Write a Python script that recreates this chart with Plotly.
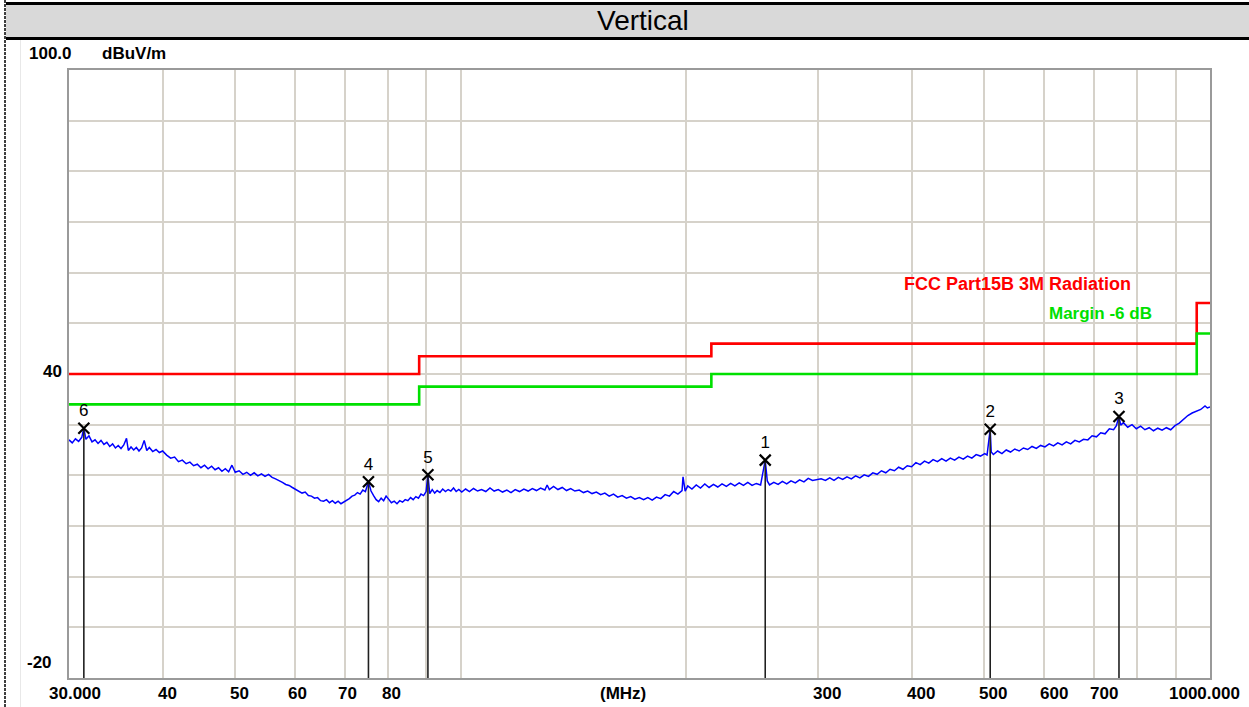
import math
import plotly.graph_objects as go

# ---------------- data ----------------
freq_mhz = [
    30.0, 30.3, 30.6, 30.9, 31.2, 31.4, 31.6, 31.9, 32.2, 32.5, 32.8, 33.1, 33.4, 33.7, 34.0, 34.3,
    34.6, 34.9, 35.2, 35.5, 35.8, 36.0, 36.3, 36.6, 36.9, 37.2, 37.5, 37.8, 38.1, 38.4, 38.8, 39.2,
    39.6, 40.0, 40.5, 41.0, 41.5, 42.0, 42.5, 43.0, 43.5, 44.0, 44.5, 45.0, 45.5, 46.0, 46.5, 47.0,
    47.5, 48.0, 48.5, 49.0, 49.5, 50.0, 50.6, 51.2, 51.8, 52.4, 53.0, 53.6, 54.2, 54.8, 55.4, 56.0,
    56.6, 57.2, 57.8, 58.4, 59.0, 59.6, 60.2, 60.8, 61.4, 62.0, 62.6, 63.2, 63.8, 64.4, 65.0, 65.6,
    66.2, 66.8, 67.4, 68.0, 68.6, 69.2, 69.8, 70.4, 71.0, 71.6, 72.2, 72.8, 73.4, 74.0, 74.6, 75.3,
    75.9, 76.5, 77.1, 77.7, 78.3, 78.9, 79.5, 80.1, 80.8, 81.5, 82.2, 82.9, 83.6, 84.3, 85.0, 85.7,
    86.4, 87.1, 87.8, 88.5, 89.2, 89.9, 90.4, 90.9, 91.6, 92.3, 93.0, 93.8, 94.6, 95.4, 96.2, 97.0,
    97.8, 98.6, 99.4, 100.3, 101.5, 102.7, 104.0, 105.3, 106.6, 108.0, 109.4, 110.8, 112.2, 113.7,
    115.2, 116.7, 118.2, 119.8, 121.4, 123.0, 124.6, 126.2, 127.8, 129.5, 130.4, 131.3, 133.0, 134.8,
    136.6, 138.4, 140.2, 142.0, 143.9, 145.8, 147.7, 149.7, 151.7, 153.7, 155.7, 157.8, 159.9, 162.0,
    164.2, 166.4, 168.6, 170.8, 173.1, 175.4, 177.7, 180.1, 182.5, 184.9, 187.4, 189.9, 192.4, 194.9,
    197.4, 198.0, 199.3, 200.9, 203.5, 206.2, 208.9, 211.7, 214.5, 217.4, 220.3, 223.2, 226.2, 229.2,
    232.2, 235.3, 238.4, 241.6, 244.8, 248.0, 251.3, 254.9, 256.5, 258.3, 261.7, 265.2, 268.7, 272.3,
    275.9, 279.6, 283.3, 287.1, 290.9, 294.8, 298.7, 302.7, 306.7, 310.8, 314.9, 319.1, 323.4, 327.7,
    332.1, 336.5, 341.0, 345.5, 350.1, 354.8, 359.5, 364.3, 369.2, 374.1, 379.1, 384.1, 389.2, 394.4,
    399.7, 405.0, 410.4, 415.9, 421.4, 427.0, 432.7, 438.5, 444.3, 450.2, 456.2, 462.3, 468.5, 474.7,
    481.0, 487.4, 493.9, 500.5, 504.0, 508.9, 510.5, 513.9, 520.7, 527.6, 534.6, 541.7, 548.9, 556.2,
    563.6, 571.1, 578.7, 586.4, 594.2, 602.1, 610.1, 618.2, 626.4, 634.7, 643.1, 651.7, 660.3, 669.1,
    678.0, 687.0, 696.1, 705.4, 714.8, 724.3, 733.9, 743.6, 750.0, 756.0, 760.0, 766.4, 776.6, 786.9,
    797.4, 808.0, 818.7, 829.6, 840.6, 851.8, 863.1, 874.6, 886.2, 898.0, 909.9, 922.0, 934.2, 946.6,
    959.2, 971.9, 984.8, 992.0, 1000.0,
]
level_dbuv = [
    27.0, 26.4, 27.2, 26.7, 27.5, 29.3, 27.1, 27.8, 26.6, 27.0, 26.3, 26.9, 26.1, 26.5, 25.7, 26.2,
    25.4, 25.9, 25.3, 26.0, 27.3, 24.9, 25.6, 25.0, 25.5, 24.8, 25.4, 26.9, 24.9, 25.5, 24.7, 25.1,
    24.5, 24.8, 24.0, 23.4, 23.6, 22.7, 23.0, 22.3, 22.6, 21.9, 22.2, 21.5, 22.0, 21.3, 21.8, 21.1,
    21.5, 20.8, 21.3, 20.7, 22.0, 20.6, 20.9, 20.2, 20.6, 20.0, 20.5, 19.9, 20.3, 19.8, 20.2, 19.6,
    19.3, 19.0, 18.6, 18.2, 18.0, 17.6, 17.2, 16.9, 16.5, 16.7, 16.0, 15.9, 15.5, 15.6, 15.0, 14.9,
    15.2, 14.6, 15.0, 14.5, 14.9, 14.4, 14.7, 15.0, 15.4, 15.9, 16.1, 16.6, 16.3, 17.1, 16.8, 18.75,
    16.9, 16.0, 15.2, 14.8, 15.5, 15.0, 15.9, 15.3, 14.6, 14.9, 14.4, 15.0, 14.7, 15.2, 15.0, 15.6,
    15.2, 15.8, 15.5, 16.3, 16.0, 16.8, 20.1, 16.4, 17.2, 16.5, 17.0, 16.6, 17.3, 16.8, 17.2, 16.9,
    17.5, 16.8, 17.2, 16.7, 17.3, 16.8, 17.4, 16.9, 17.2, 16.8, 17.5, 16.9, 17.2, 16.7,
    17.1, 16.6, 17.2, 16.8, 17.3, 16.9, 17.4, 17.0, 17.5, 17.1, 18.1, 17.2, 17.8, 17.2,
    17.6, 17.0, 17.4, 16.9, 17.1, 16.6, 16.9, 16.4, 16.7, 16.2, 16.5, 15.9, 16.3, 15.7,
    16.0, 15.5, 15.8, 15.3, 15.6, 15.2, 15.6, 15.1, 15.7, 15.4, 16.2, 15.9, 16.8, 16.3,
    17.0, 19.7, 16.9, 17.9, 17.3, 18.1, 17.5, 18.3, 17.6, 18.2, 17.7, 18.3, 17.8, 18.4,
    17.9, 18.5, 18.0, 18.6, 18.0, 18.4, 18.1, 23.0, 18.9, 18.1, 18.6, 18.2, 18.8, 18.3,
    18.9, 18.5, 19.1, 18.7, 19.4, 19.0, 19.2, 19.3, 19.0, 19.5, 19.0, 19.6, 19.2, 19.7,
    19.3, 19.9, 19.5, 20.1, 19.8, 20.5, 20.2, 20.9, 20.5, 21.2, 20.9, 21.6, 21.2, 21.9,
    21.7, 22.5, 22.1, 22.8, 22.4, 23.1, 22.7, 23.3, 22.8, 23.4, 23.0, 23.6, 23.2, 23.8,
    23.4, 24.1, 23.8, 24.3, 24.0, 29.1, 24.6, 24.1, 24.8, 24.3, 25.0, 24.6, 25.2, 24.8,
    25.4, 25.1, 25.7, 25.3, 25.9, 25.6, 26.2, 25.8, 26.4, 26.0, 26.6, 26.2, 26.9, 26.6,
    27.1, 27.0, 27.8, 27.6, 28.4, 28.2, 29.2, 29.0, 29.8, 31.6, 29.9, 30.4, 29.5, 30.0,
    29.2, 29.7, 29.0, 29.4, 28.8, 29.3, 28.9, 29.4, 29.0, 29.8, 30.3, 31.0, 31.8, 32.3,
    32.7, 33.0, 33.7, 33.3, 33.5,
]

limit_freq = [30, 88, 216, 960, 1000]
limit_level = [40.0, 43.5, 46.0, 54.0, 54.0]
margin_level = [34.0, 37.5, 40.0, 48.0, 48.0]

marker_ids = ["1", "2", "3", "4", "5", "6"]
marker_freq = [254.9, 508.9, 756.0, 75.3, 90.4, 31.4]
marker_level = [23.0, 29.1, 31.6, 18.75, 20.1, 29.3]

x_grid_vals = [40, 50, 60, 70, 80, 90, 100, 200, 300, 400, 500, 600, 700, 800, 900]
x_tick_vals = [30, 40, 50, 60, 70, 80, 300, 400, 500, 600, 700, 1000]
x_tick_text = ["30.000", "40", "50", "60", "70", "80", "300", "400", "500", "600", "700", "1000.000"]
x_tick_shift = [6, 5, 4, 3, 3, 3, 9, 9, 9, 10, 10, -6]
y_min, y_max = -20, 100
y_grid_vals = [-10, 0, 10, 20, 30, 40, 50, 60, 70, 80, 90]

legend_limit = "FCC Part15B 3M Radiation"
legend_margin = "Margin -6 dB"
title_text = "Vertical"
unit_text = "dBuV/m"
x_unit_text = "(MHz)"

# ---------------- layout helpers (pixel -> paper) ----------------
W, H = 1249, 707
L, R, T, B = 69, 1210, 70, 678


def PX(x):
    return (x - L) / (R - L)


def PY(y):
    return (B - y) / (B - T)


FONT = "Liberation Sans, Arial, sans-serif"
RED = "#ff0000"
GREEN = "#00e000"
BLUE = "#0000ff"

fig = go.Figure()

# limit lines
fig.add_trace(go.Scatter(x=limit_freq, y=limit_level, mode="lines",
                         line=dict(color=RED, width=2.6, shape="hv"), hoverinfo="skip"))
fig.add_trace(go.Scatter(x=limit_freq, y=margin_level, mode="lines",
                         line=dict(color=GREEN, width=2.6, shape="hv"), hoverinfo="skip"))

# measured trace
fig.add_trace(go.Scatter(x=freq_mhz, y=level_dbuv, mode="lines",
                         line=dict(color=BLUE, width=1.5)))

# marker vertical lines
mx, my = [], []
for f, v in zip(marker_freq, marker_level):
    mx += [f, f, None]
    my += [v, y_min, None]
fig.add_trace(go.Scatter(x=mx, y=my, mode="lines",
                         line=dict(color="#202020", width=1.6), hoverinfo="skip"))

# marker crosses + numbers
fig.add_trace(go.Scatter(x=marker_freq, y=marker_level, mode="markers+text",
                         text=marker_ids, textposition="top center",
                         textfont=dict(family=FONT, size=17, color="#000000"),
                         marker=dict(symbol="x-thin-open", size=11, color="#000000",
                                     line=dict(color="#000000", width=2.2))))

annotations = []
# x tick labels
for v, t, s in zip(x_tick_vals, x_tick_text, x_tick_shift):
    annotations.append(dict(x=math.log10(v), xref="x", y=PY(693), yref="paper",
                            text=t, showarrow=False, xanchor="center", yanchor="middle",
                            xshift=s, font=dict(family=FONT, size=17, color="#000", weight="bold")))
annotations.append(dict(x=PX(623), xref="paper", y=PY(693), yref="paper", text=x_unit_text,
                        showarrow=False, xanchor="center", yanchor="middle",
                        font=dict(family=FONT, size=17, color="#000", weight="bold")))
# y labels
annotations.append(dict(x=PX(74), xref="paper", y=PY(53), yref="paper", text=f"{y_max:.1f}",
                        showarrow=False, xanchor="right", yanchor="middle",
                        font=dict(family=FONT, size=17, color="#000", weight="bold")))
annotations.append(dict(x=PX(100), xref="paper", y=PY(53), yref="paper", text=unit_text,
                        showarrow=False, xanchor="left", yanchor="middle",
                        font=dict(family=FONT, size=17, color="#000", weight="bold")))
annotations.append(dict(x=PX(64), xref="paper", y=40, yref="y", text="40", yshift=3,
                        showarrow=False, xanchor="right", yanchor="middle",
                        font=dict(family=FONT, size=17, color="#000", weight="bold")))
annotations.append(dict(x=PX(54), xref="paper", y=y_min, yref="y", text=str(y_min), yshift=16,
                        showarrow=False, xanchor="right", yanchor="middle",
                        font=dict(family=FONT, size=17, color="#000", weight="bold")))
# legend texts
annotations.append(dict(x=PX(902), xref="paper", y=PY(284), yref="paper", text=legend_limit,
                        showarrow=False, xanchor="left", yanchor="middle",
                        font=dict(family=FONT, size=18, color=RED, weight="bold")))
annotations.append(dict(x=PX(1047), xref="paper", y=PY(313), yref="paper", text=legend_margin,
                        showarrow=False, xanchor="left", yanchor="middle",
                        font=dict(family=FONT, size=17, color=GREEN, weight="bold")))
# header title
annotations.append(dict(x=PX(643), xref="paper", y=PY(21), yref="paper", text=title_text,
                        showarrow=False, xanchor="center", yanchor="middle",
                        font=dict(family=FONT, size=28, color="#000")))

shapes = [
    dict(type="rect", xref="paper", yref="paper", x0=PX(6), x1=PX(W), y0=PY(37), y1=PY(5),
         fillcolor="#d9d9d9", line=dict(width=0), layer="below"),
    dict(type="line", xref="paper", yref="paper", x0=PX(6), x1=PX(W), y0=PY(3.5), y1=PY(3.5),
         line=dict(color="#000", width=3)),
    dict(type="line", xref="paper", yref="paper", x0=PX(6), x1=PX(W), y0=PY(38.5), y1=PY(38.5),
         line=dict(color="#000", width=3)),
    dict(type="line", xref="paper", yref="paper", x0=PX(5), x1=PX(5), y0=PY(0), y1=PY(H),
         line=dict(color="#000", width=1.5, dash="3px,1px")),
    dict(type="line", xref="paper", yref="paper", x0=PX(20.5), x1=PX(20.5), y0=PY(40), y1=PY(H),
         line=dict(color="#e8e8e8", width=1)),
]

fig.update_layout(
    width=W, height=H,
    margin=dict(l=L, r=W - R, t=T, b=H - B, pad=0),
    paper_bgcolor="#ffffff", plot_bgcolor="#ffffff",
    showlegend=False,
    annotations=annotations, shapes=shapes,
    xaxis=dict(type="log", range=[math.log10(30), math.log10(1000)],
               tickvals=x_grid_vals, showticklabels=False, ticks="",
               showgrid=True, gridcolor="#d6d2ca", gridwidth=1.6,
               showline=True, linecolor="#9a9a9a", linewidth=2, mirror=True,
               zeroline=False, fixedrange=True),
    yaxis=dict(range=[y_min, y_max], tickvals=y_grid_vals, showticklabels=False, ticks="",
               showgrid=True, gridcolor="#d6d2ca", gridwidth=1.6,
               showline=True, linecolor="#9a9a9a", linewidth=2, mirror=True,
               zeroline=False, fixedrange=True),
)

fig.write_html(
    "out.html",
    config={"displayModeBar": False},
    post_script="document.body.style.margin='0';document.body.style.padding='0';"
                "document.body.style.overflow='hidden';",
)
